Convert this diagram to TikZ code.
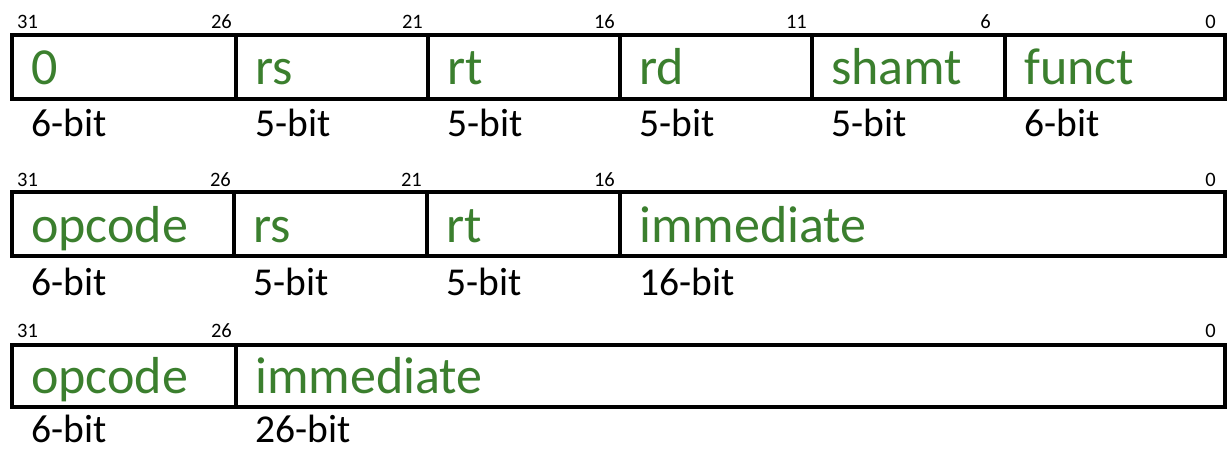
\documentclass[tikz,border=0pt]{standalone}
\usepackage{fontspec}
\setmainfont{Carlito}
\definecolor{fieldgreen}{RGB}{59,127,46}
\begin{document}
\begin{tikzpicture}[x=1pt,y=-1pt,
  cell/.style={draw=black, line width=3.5pt, rectangle, inner sep=0pt, outer sep=0pt, anchor=north west},
  field/.style={anchor=base west, inner sep=0pt, text=fieldgreen, font=\fontsize{52}{52}\selectfont},
  width/.style={anchor=base west, inner sep=0pt, text=black, font=\fontsize{39.5}{39.5}\selectfont},
  bitnum/.style={inner sep=0pt, text=black, font=\fontsize{20.5}{20.5}\selectfont},
  bitL/.style={bitnum, anchor=base west},
  bitR/.style={bitnum, anchor=base east}]
\useasboundingbox (0,0) rectangle (1228,449);

% R-type: 0 | rs | rt | rd | shamt | funct
\node[cell, minimum width=224pt, minimum height=64pt] (a1) at (12,35) {};
\node[cell, minimum width=192pt, minimum height=64pt] (a2) at (236,35) {};
\node[cell, minimum width=192pt, minimum height=64pt] (a3) at (428,35) {};
\node[cell, minimum width=192pt, minimum height=64pt] (a4) at (620,35) {};
\node[cell, minimum width=193pt, minimum height=64pt] (a5) at (812,35) {};
\node[cell, minimum width=220pt, minimum height=64pt] (a6) at (1005,35) {};
\node[field] (fa1) at (31,85) {0};
\node[field] (fa2) at (255,85) {rs};
\node[field] (fa3) at (447,85) {rt};
\node[field] (fa4) at (639,85) {rd};
\node[field] (fa5) at (831,85) {shamt};
\node[field] (fa6) at (1024,85) {funct};
\node[width] (wa1) at (31,137) {6-bit};
\node[width] (wa2) at (255,137) {5-bit};
\node[width] (wa3) at (447,137) {5-bit};
\node[width] (wa4) at (639,137) {5-bit};
\node[width] (wa5) at (831,137) {5-bit};
\node[width] (wa6) at (1024,137) {6-bit};
\node[bitL] (ba0) at (17,29) {31};
\node[bitR] (ba1) at (232,29) {26};
\node[bitR] (ba2) at (423,29) {21};
\node[bitR] (ba3) at (615,29) {16};
\node[bitR] (ba4) at (807,29) {11};
\node[bitR] (ba5) at (991,29) {6};
\node[bitR] (ba6) at (1216,29) {0};

% I-type: opcode | rs | rt | immediate
\node[cell, minimum width=222pt, minimum height=64pt] (b1) at (12,192) {};
\node[cell, minimum width=193pt, minimum height=64pt] (b2) at (234,192) {};
\node[cell, minimum width=193pt, minimum height=64pt] (b3) at (427,192) {};
\node[cell, minimum width=605pt, minimum height=64pt] (b4) at (620,192) {};
\node[field] (fb1) at (31,242) {opcode};
\node[field] (fb2) at (253,242) {rs};
\node[field] (fb3) at (446,242) {rt};
\node[field] (fb4) at (639,242) {immediate};
\node[width] (wb1) at (31,295) {6-bit};
\node[width] (wb2) at (253,295) {5-bit};
\node[width] (wb3) at (446,295) {5-bit};
\node[width] (wb4) at (639,295) {16-bit};
\node[bitL] (bb0) at (17,186) {31};
\node[bitR] (bb1) at (231,186) {26};
\node[bitR] (bb2) at (422,186) {21};
\node[bitR] (bb3) at (615,186) {16};
\node[bitR] (bb4) at (1216,186) {0};

% J-type: opcode | immediate
\node[cell, minimum width=224pt, minimum height=62pt] (c1) at (12,345) {};
\node[cell, minimum width=989pt, minimum height=62pt] (c2) at (236,345) {};
\node[field] (fc1) at (31,393) {opcode};
\node[field] (fc2) at (255,393) {immediate};
\node[width] (wc1) at (31,442) {6-bit};
\node[width] (wc2) at (255,442) {26-bit};
\node[bitL] (bc0) at (17,337) {31};
\node[bitR] (bc1) at (232,337) {26};
\node[bitR] (bc2) at (1216,337) {0};
\end{tikzpicture}
\end{document}
